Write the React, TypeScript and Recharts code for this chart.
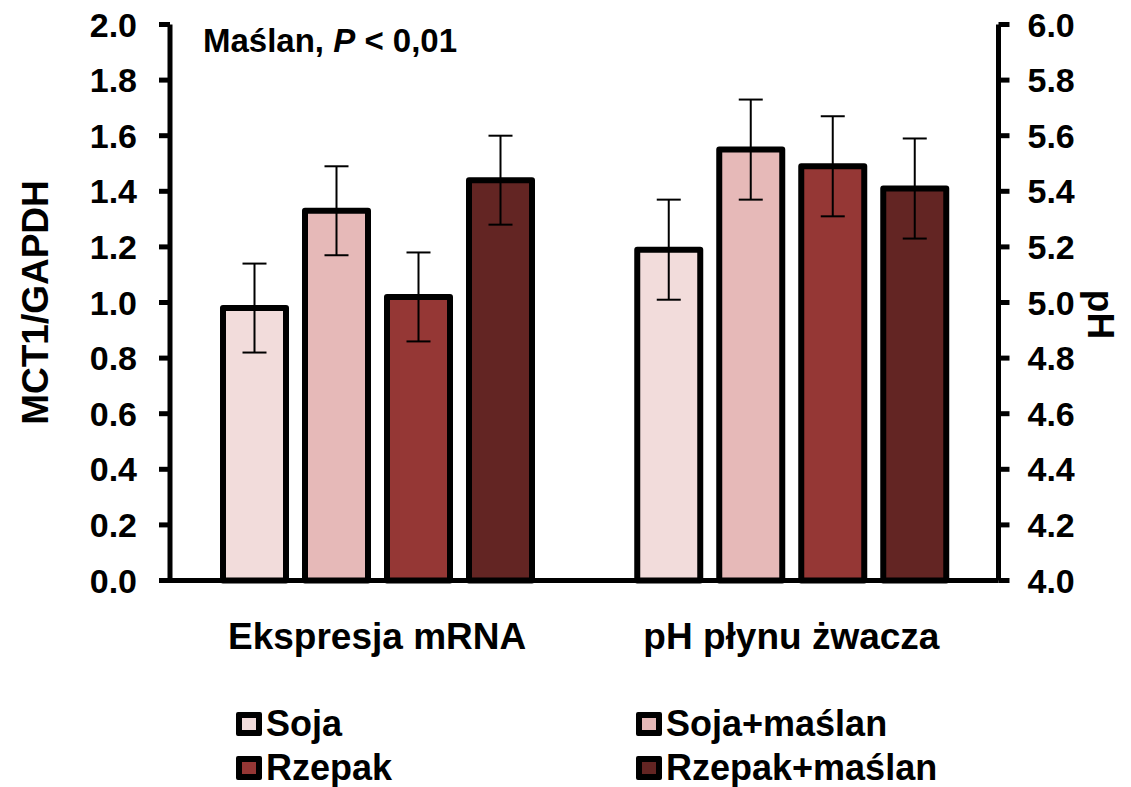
import React from "react";
import {
  BarChart,
  Bar,
  ErrorBar,
  XAxis,
  YAxis,
  Legend,
} from "recharts";

const categories = ["Ekspresja mRNA", "pH płynu żwacza"];
const seriesNames = ["Soja", "Soja+maślan", "Rzepak", "Rzepak+maślan"];
const seriesKeys = ["soja", "sojaMaslan", "rzepak", "rzepakMaslan"];
const seriesColors = ["#F2DCDB", "#E6B9B8", "#953735", "#632523"];

// MCT1/GAPDH, left axis
const mrnaValues = [0.98, 1.33, 1.02, 1.44];
const mrnaErrors = [0.16, 0.16, 0.16, 0.16];

// pH, right axis
const phValues = [5.19, 5.55, 5.49, 5.41];
const phErrors = [0.18, 0.18, 0.18, 0.18];

const leftTicks = [0, 0.2, 0.4, 0.6, 0.8, 1.0, 1.2, 1.4, 1.6, 1.8, 2.0];
const rightTicks = [4.0, 4.2, 4.4, 4.6, 4.8, 5.0, 5.2, 5.4, 5.6, 5.8, 6.0];

const LEFT_MIN = 0;
const LEFT_MAX = 2;
const PH_MIN = 4;
const PH_MAX = 6;

const FONT = "'Liberation Sans', Arial, sans-serif";

// pH bars share the plot with the left axis, so map pH onto left-axis units
const phScale = (LEFT_MAX - LEFT_MIN) / (PH_MAX - PH_MIN);
const phToLeft = (v: number) => LEFT_MIN + (v - PH_MIN) * phScale;

const data = categories.map((group, i) => {
  const row: Record<string, string | number> = { group };
  seriesKeys.forEach((key, k) => {
    row[key] = i === 0 ? mrnaValues[k] : phToLeft(phValues[k]);
    row[key + "Err"] = i === 0 ? mrnaErrors[k] : phErrors[k] * phScale;
  });
  return row;
});

const tickStyle = { fill: "#000", fontSize: 34, fontWeight: 700, fontFamily: FONT };

function LeftLabel(props: any) {
  const { viewBox } = props;
  const cx = 35;
  const cy = viewBox.y + viewBox.height / 2;
  return (
    <text
      x={cx}
      y={cy}
      transform={`rotate(-90, ${cx}, ${cy})`}
      textAnchor="middle"
      dominantBaseline="central"
      style={{ fontSize: 37, fontWeight: 700, fontFamily: FONT, fill: "#000" }}
    >
      MCT1/GAPDH
    </text>
  );
}

function RightLabel(props: any) {
  const { viewBox } = props;
  const cx = 1100;
  const cy = viewBox.y + viewBox.height / 2 + 12;
  return (
    <text
      x={cx}
      y={cy}
      transform={`rotate(90, ${cx}, ${cy})`}
      textAnchor="middle"
      dominantBaseline="central"
      style={{ fontSize: 37, fontWeight: 700, fontFamily: FONT, fill: "#000" }}
    >
      pH
    </text>
  );
}

function LegendContent(props: any) {
  // keep the series order, the legend payload comes sorted by name
  const payload = [...(props.payload || [])].sort(
    (a: any, b: any) => seriesNames.indexOf(a.value) - seriesNames.indexOf(b.value)
  );
  return (
    <div
      style={{
        display: "grid",
        gridTemplateColumns: "400px 400px",
        fontFamily: FONT,
        fontWeight: 700,
        fontSize: 36,
        color: "#000",
      }}
    >
      {payload.map((entry: any, i: number) => (
        <div key={i} style={{ display: "flex", alignItems: "center", height: 44 }}>
          <span
            style={{
              display: "inline-block",
              width: 14,
              height: 12,
              border: "6px solid #000",
              borderRadius: 2,
              background: seriesColors[seriesNames.indexOf(entry.value)] || entry.color,
              marginRight: 4,
            }}
          />
          <span style={{ lineHeight: "44px" }}>{entry.value}</span>
        </div>
      ))}
    </div>
  );
}

export default function App() {
  return (
    <div style={{ position: "absolute", left: 0, top: 0, background: "#fff" }}>
      <BarChart
        width={1131}
        height={787}
        data={data}
        margin={{ top: 24.5, right: 0, bottom: 126.5, left: 0 }}
        barSize={63}
        barGap={19}
      >
        <XAxis
          dataKey="group"
          height={80}
          tickLine={false}
          axisLine={{ stroke: "#000", strokeWidth: 5 }}
          tickMargin={36}
          tick={{ fill: "#000", fontSize: 37, fontWeight: 700, fontFamily: FONT }}
        />
        <YAxis
          yAxisId="left"
          width={170}
          domain={[LEFT_MIN, LEFT_MAX]}
          ticks={leftTicks}
          interval={0}
          tickFormatter={(v: number) => v.toFixed(1)}
          tickSize={11}
          tickMargin={22}
          tickLine={{ stroke: "#000", strokeWidth: 5 }}
          axisLine={{ stroke: "#000", strokeWidth: 5 }}
          tick={tickStyle}
          label={{ content: LeftLabel }}
        />
        <YAxis
          yAxisId="right"
          orientation="right"
          width={132.5}
          domain={[PH_MIN, PH_MAX]}
          allowDataOverflow
          ticks={rightTicks}
          interval={0}
          tickFormatter={(v: number) => v.toFixed(1)}
          tickSize={11}
          tickMargin={18}
          tickLine={{ stroke: "#000", strokeWidth: 5 }}
          axisLine={{ stroke: "#000", strokeWidth: 5 }}
          tick={tickStyle}
          label={{ content: RightLabel }}
        />
        <Legend
          layout="horizontal"
          verticalAlign="middle"
          align="center"
          content={LegendContent}
          wrapperStyle={{ left: 236, top: 702, width: 820 }}
        />
        {seriesKeys.map((key, k) => (
          <Bar
            key={key}
            yAxisId="left"
            dataKey={key}
            name={seriesNames[k]}
            fill={seriesColors[k]}
            stroke="#000"
            strokeWidth={6}
            strokeLinejoin="round"
            isAnimationActive={false}
          >
            <ErrorBar
              dataKey={key + "Err"}
              width={12}
              stroke="#000"
              strokeWidth={2}
              isAnimationActive={false}
            />
          </Bar>
        ))}
        <text
          x={203}
          y={52}
          style={{ fontSize: 33, fontWeight: 700, fontFamily: FONT, fill: "#000" }}
        >
          Maślan, <tspan fontStyle="italic">P</tspan> &lt; 0,01
        </text>
      </BarChart>
    </div>
  );
}
